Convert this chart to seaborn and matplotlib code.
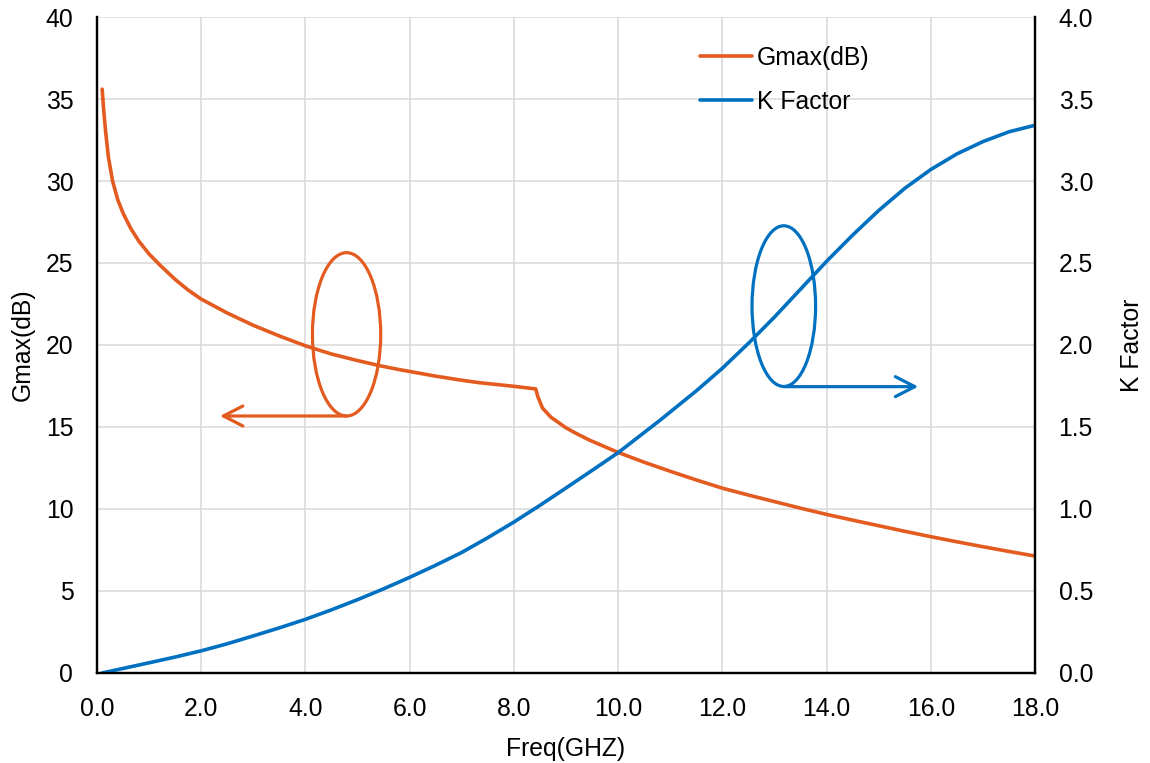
import numpy as np
import pandas as pd
import seaborn as sns
import matplotlib.pyplot as plt
from matplotlib.patches import Ellipse
from matplotlib.ticker import MultipleLocator, FormatStrFormatter

sns.set_style('white')
plt.rcParams['font.family'] = ['Liberation Sans', 'DejaVu Sans']
plt.rcParams['font.size'] = 17.8
plt.rcParams.update({'text.color': 'black', 'axes.labelcolor': 'black',
                     'xtick.color': 'black', 'ytick.color': 'black'})

# values
gmax_freq = [0.1, 0.13, 0.17, 0.22, 0.3, 0.4, 0.5, 0.65, 0.8, 1.0, 1.2, 1.5, 1.75, 2.0, 2.5,
             3.0, 3.5, 4.0, 4.5, 5.0, 5.45, 5.8, 6.5, 7.0, 7.34, 8.0, 8.42, 8.46, 8.55,
             8.71, 9.0, 9.2, 9.45, 10.0, 10.5, 11.0, 11.5, 12.0, 12.5, 13.0, 13.5, 14.0,
             14.5, 15.0, 15.5, 16.0, 16.5, 17.0, 17.5, 18.0]
gmax_db = [35.6, 34.3, 32.9, 31.45, 30.0, 28.85, 28.05, 27.1, 26.35, 25.55, 24.9, 24.0, 23.35, 22.8, 21.95,
           21.2, 20.55, 19.95, 19.45, 19.05, 18.72, 18.5, 18.1, 17.85, 17.7, 17.48, 17.32, 16.85, 16.15,
           15.6, 14.95, 14.6, 14.2, 13.45, 12.85, 12.3, 11.77, 11.27, 10.85, 10.45, 10.05, 9.67,
           9.32, 8.98, 8.64, 8.31, 8.0, 7.70, 7.41, 7.13]

k_freq = [0.1, 1.0, 1.5, 2.0, 2.5, 3.0, 3.5, 4.0, 4.5, 5.0, 5.5, 6.0, 6.5, 7.0, 7.5, 8.0, 8.5,
          9.0, 9.5, 10.0, 10.8, 11.5, 12.0, 12.5, 13.0, 13.5, 14.0, 14.5, 15.0, 15.5, 16.0,
          16.5, 17.0, 17.5, 18.0]
k_factor = [0.0, 0.062, 0.097, 0.135, 0.178, 0.226, 0.275, 0.327, 0.385, 0.447, 0.513, 0.583, 0.657,
            0.735, 0.825, 0.92, 1.022, 1.128, 1.235, 1.343, 1.54, 1.72, 1.858, 2.01, 2.17, 2.34, 2.51,
            2.67, 2.82, 2.955, 3.07, 3.165, 3.24, 3.30, 3.34]

orange = '#E35B1F'
blue = '#0070C0'

fig = plt.figure(figsize=(11.5, 7.63), dpi=100)
ax = fig.add_axes([0.0843, 0.118, 0.8157, 0.8597])
ax2 = ax.twinx()

sns.lineplot(x=gmax_freq, y=gmax_db, ax=ax, color=orange, linewidth=2.6, label='Gmax(dB)')
sns.lineplot(x=k_freq, y=k_factor, ax=ax2, color=blue, linewidth=2.6, label='K Factor')
for a in (ax, ax2):
    for ln in a.get_lines():
        ln.set_solid_joinstyle('round')

ax.set_xlim(0, 18)
ax.set_ylim(0, 40)
ax2.set_ylim(0, 4)
ax.xaxis.set_major_locator(MultipleLocator(2))
ax.xaxis.set_major_formatter(FormatStrFormatter('%.1f'))
ax.yaxis.set_major_locator(MultipleLocator(5))
ax2.yaxis.set_major_locator(MultipleLocator(0.5))
ax2.yaxis.set_major_formatter(FormatStrFormatter('%.1f'))

ax.grid(True, color='#D9D9D9', linewidth=1.1)
ax.set_axisbelow(True)
for a in (ax, ax2):
    a.tick_params(length=0, pad=17, labelsize=17.8)
    a.spines['top'].set_visible(False)
    for s in ('left', 'right', 'bottom'):
        a.spines[s].set_color('black')
        a.spines[s].set_linewidth(1.6)

ax.set_xlabel('Freq(GHZ)', fontsize=17.8, labelpad=12)
ax.set_ylabel('Gmax(dB)', fontsize=17.8, labelpad=8)
ax2.set_ylabel('K Factor', fontsize=17.8, labelpad=19)

# annotation ellipses and arrows
ax.add_patch(Ellipse((4.79, 20.65), 1.31, 9.96, fill=False, edgecolor=orange, linewidth=2.3))
ax.annotate('', xy=(2.36, 15.67), xytext=(4.79, 15.67),
            arrowprops=dict(arrowstyle='->,head_length=0.7,head_width=0.36',
                            color=orange, lw=2.3, shrinkA=0, shrinkB=0, mutation_scale=20))
ax2.add_patch(Ellipse((13.18, 2.237), 1.22, 0.98, fill=False, edgecolor=blue, linewidth=2.3))
ax2.annotate('', xy=(15.76, 1.746), xytext=(13.18, 1.746),
             arrowprops=dict(arrowstyle='->,head_length=0.7,head_width=0.36',
                             color=blue, lw=2.3, shrinkA=0, shrinkB=0, mutation_scale=20))

h1, l1 = ax.get_legend_handles_labels()
h2, l2 = ax2.get_legend_handles_labels()
ax.get_legend().remove()
ax2.legend(h1 + h2, l1 + l2, loc='upper left', bbox_to_anchor=(700 / 1150, 1 - 46 / 763),
           bbox_transform=fig.transFigure, frameon=False, borderpad=0, borderaxespad=0,
           handlelength=2.1, handletextpad=0.2, labelspacing=0.8, fontsize=17.8)

fig.savefig('out.png', dpi=100)
